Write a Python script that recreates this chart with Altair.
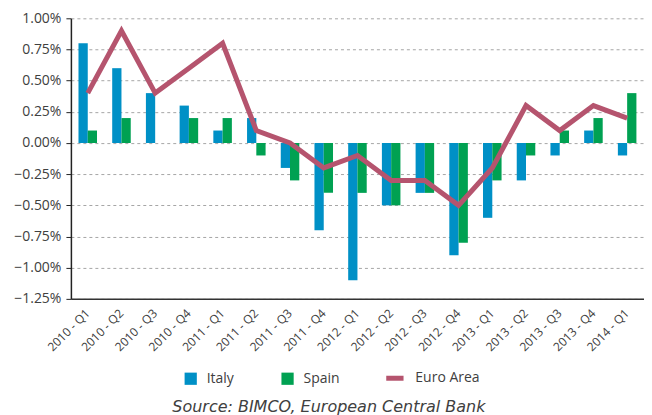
import altair as alt
import pandas as pd

quarters = ["2010 - Q1", "2010 - Q2", "2010 - Q3", "2010 - Q4",
            "2011 - Q1", "2011 - Q2", "2011 - Q3", "2011 - Q4",
            "2012 - Q1", "2012 - Q2", "2012 - Q3", "2012 - Q4",
            "2013 - Q1", "2013 - Q2", "2013 - Q3", "2013 - Q4",
            "2014 - Q1"]
italy = [0.8, 0.6, 0.4, 0.3, 0.1, 0.2, -0.2, -0.7, -1.1, -0.5, -0.4, -0.9, -0.6, -0.3, -0.1, 0.1, -0.1]
spain = [0.1, 0.2, 0.0, 0.2, 0.2, -0.1, -0.3, -0.4, -0.4, -0.5, -0.4, -0.8, -0.3, -0.1, 0.1, 0.2, 0.4]
euro = [0.4, 0.9, 0.4, 0.6, 0.8, 0.1, 0.0, -0.2, -0.1, -0.3, -0.3, -0.5, -0.2, 0.3, 0.1, 0.3, 0.2]
y_ticks = [1.0, 0.75, 0.5, 0.25, 0.0, -0.25, -0.5, -0.75, -1.0, -1.25]

rows = []
for q, a, b, c in zip(quarters, italy, spain, euro):
    rows.append({"quarter": q, "series": "Italy", "value": a})
    rows.append({"quarter": q, "series": "Spain", "value": b})
    rows.append({"quarter": q, "series": "Euro Area", "value": c})
df = pd.DataFrame(rows)

FONT = "Open Sans"
TXT = "#404040"

x_axis = alt.Axis(labelAngle=-45, labelAlign="right", labelBaseline="middle",
                  labelFontSize=12, labelColor=TXT, labelFont=FONT,
                  ticks=False, domainColor="#333333", domainWidth=1.5,
                  labelPadding=12, grid=False, labelOverlap=False)
x_scale = alt.Scale(paddingInner=0.45, paddingOuter=0.225)
y_scale = alt.Scale(domain=[-1.25, 1.0], nice=False, zero=False)
y_axis = alt.Axis(values=y_ticks, labelExpr="format(datum.value, '.2f') + '%'",
                  labelFontSize=14, labelColor=TXT, labelFont=FONT, labelOverlap=False,
                  labelFlush=False, labelBound=False,
                  grid=True, gridDash=[3, 3], gridColor="#a6a6a6", gridWidth=1,
                  domainColor="#222222", domainWidth=1.5, tickColor="#222222",
                  tickSize=5, labelPadding=5)

bars = alt.Chart(df).transform_filter(
    alt.FieldOneOfPredicate(field="series", oneOf=["Italy", "Spain"])
).mark_bar().encode(
    x=alt.X("quarter:N", sort=quarters, title=None, scale=x_scale, axis=x_axis),
    xOffset=alt.XOffset("series:N", scale=alt.Scale(domain=["Italy", "Spain"], paddingInner=0, paddingOuter=0)),
    y=alt.Y("value:Q", scale=y_scale, axis=y_axis, title=None),
    color=alt.Color("series:N",
                    scale=alt.Scale(domain=["Italy", "Spain"], range=["#0090c6", "#00a152"]),
                    legend=alt.Legend(title=None, orient="none", direction="horizontal",
                                      legendX=113, legendY=354, symbolType="square",
                                      symbolSize=150, symbolStrokeWidth=0,
                                      labelFontSize=14, labelFont=FONT, labelColor=TXT,
                                      labelOffset=9, columnPadding=46, padding=0)),
)

line = alt.Chart(df).transform_filter(
    alt.FieldEqualPredicate(field="series", equal="Euro Area")
).mark_line(strokeWidth=5).encode(
    x=alt.X("quarter:N", sort=quarters, title=None, scale=x_scale, axis=x_axis),
    y=alt.Y("value:Q", scale=y_scale, axis=y_axis, title=None),
    color=alt.Color("series:N",
                    scale=alt.Scale(domain=["Euro Area"], range=["#b5546e"]),
                    legend=alt.Legend(title=None, orient="none", direction="horizontal",
                                      legendX=313, legendY=349, symbolType="stroke",
                                      symbolSize=300, symbolStrokeWidth=5,
                                      labelFontSize=14, labelFont=FONT, labelColor=TXT,
                                      labelOffset=9, padding=0)),
)

chart = alt.layer(bars, line).resolve_scale(color="independent").properties(
    width=574, height=281,
    padding={"top": 3, "left": 5, "right": 0, "bottom": 0},
    title=alt.TitleParams("Source: BIMCO, European Central Bank", orient="bottom",
                          anchor="middle", frame="bounds", fontSize=16, fontStyle="italic",
                          fontWeight="normal", font="DejaVu Sans", color=TXT, offset=10),
).configure_view(stroke=None).configure_axisY(labelOverlap=False)

chart.save("out.html", embed_options={"renderer": "svg", "actions": False})
